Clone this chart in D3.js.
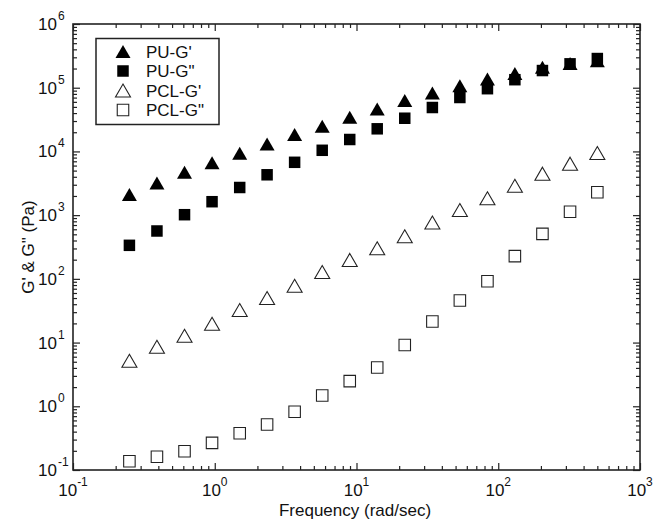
<!DOCTYPE html>
<html>
<head>
<meta charset="utf-8">
<script src="https://cdn.jsdelivr.net/npm/d3@7"></script>
<style>
  body { margin: 0; background: #fff; }
  svg { display: block; font-family: Arial, "Liberation Sans", Helvetica, sans-serif; }
</style>
</head>
<body>
<svg id="chart" width="664" height="520"></svg>
<script>
// frequency sweep (rad/sec)
var freq = [0.25, 0.391, 0.612, 0.957, 1.50, 2.34, 3.66, 5.73, 8.96, 14.0, 21.9, 34.3, 53.6, 83.9, 131, 205, 321, 500];

// moduli (Pa)
var puGp  = [2100, 3200, 4700, 6650, 9350, 13100, 18450, 24800, 34450, 46300, 63000, 82600, 107000, 137000, 167000, 209000, 240000, 265000];
var puGpp = [336, 564, 1016, 1625, 2716, 4300, 6750, 10420, 15390, 22650, 33200, 48900, 70200, 96500, 133600, 186000, 237000, 287000];
var pclGp = [5.18, 8.6, 12.8, 19.7, 32.4, 50, 77.8, 128, 198, 302, 466, 767, 1205, 1837, 2886, 4473, 6420, 9450];
var pclGpp = [0.137, 0.161, 0.197, 0.267, 0.377, 0.518, 0.822, 1.48, 2.48, 4.06, 9.16, 21.4, 45.7, 91.9, 227, 509, 1132, 2291];

var seriesNames = ["PU-G'", 'PU-G"', "PCL-G'", 'PCL-G"'];
var xTickExp = [-1, 0, 1, 2, 3];
var yTickExp = [-1, 0, 1, 2, 3, 4, 5, 6];

var series = [
  { name: seriesNames[0], values: puGp, shape: 'tri', filled: true },
  { name: seriesNames[1], values: puGpp, shape: 'sq', filled: true },
  { name: seriesNames[2], values: pclGp, shape: 'tri', filled: false },
  { name: seriesNames[3], values: pclGpp, shape: 'sq', filled: false }
];

var svg = d3.select('#chart');
// plot box (note: "top" is taken by window.top)
var pLeft = 73, pRight = 640, pTop = 24, pBottom = 470;

var x = d3.scaleLog().domain([0.1, 1000]).range([pLeft, pRight]);
var y = d3.scaleLog().domain([0.1, 1e6]).range([pBottom, pTop]);

var isMajor = function(v) { return Math.abs(Math.log10(v) - Math.round(Math.log10(v))) < 1e-6; };
var xMinor = x.ticks().filter(function(v) { return !isMajor(v); });
var yMinor = y.ticks().filter(function(v) { return !isMajor(v); });
var xMajor = xTickExp.map(function(e) { return Math.pow(10, e); });
var yMajor = yTickExp.map(function(e) { return Math.pow(10, e); });

function styleAxis(g) {
  g.select('.domain').remove();
  g.selectAll('line').attr('stroke', '#222').attr('stroke-width', 1.2);
}

// ticks, pointing inwards on all four sides
svg.append('g').attr('transform', 'translate(0,' + pBottom + ')')
  .call(d3.axisBottom(x).tickValues(xMinor).tickSize(-4).tickFormat('')).call(styleAxis);
svg.append('g').attr('transform', 'translate(0,' + pBottom + ')')
  .call(d3.axisBottom(x).tickValues(xMajor).tickSize(-7).tickFormat('')).call(styleAxis);
svg.append('g').attr('transform', 'translate(0,' + pTop + ')')
  .call(d3.axisTop(x).tickValues(xMinor).tickSize(-4).tickFormat('')).call(styleAxis);
svg.append('g').attr('transform', 'translate(0,' + pTop + ')')
  .call(d3.axisTop(x).tickValues(xMajor).tickSize(-7).tickFormat('')).call(styleAxis);
svg.append('g').attr('transform', 'translate(' + pLeft + ',0)')
  .call(d3.axisLeft(y).tickValues(yMinor).tickSize(-4).tickFormat('')).call(styleAxis);
svg.append('g').attr('transform', 'translate(' + pLeft + ',0)')
  .call(d3.axisLeft(y).tickValues(yMajor).tickSize(-7).tickFormat('')).call(styleAxis);
svg.append('g').attr('transform', 'translate(' + pRight + ',0)')
  .call(d3.axisRight(y).tickValues(yMinor).tickSize(-4).tickFormat('')).call(styleAxis);
svg.append('g').attr('transform', 'translate(' + pRight + ',0)')
  .call(d3.axisRight(y).tickValues(yMajor).tickSize(-7).tickFormat('')).call(styleAxis);

// frame
svg.append('rect')
  .attr('x', pLeft).attr('y', pTop)
  .attr('width', pRight - pLeft).attr('height', pBottom - pTop)
  .attr('fill', 'none').attr('stroke', '#222').attr('stroke-width', 1.6);

// tick labels as 10^n
var xl = svg.append('g').selectAll('text').data(xTickExp).join('text')
  .attr('x', function(d) { return x(Math.pow(10, d)); })
  .attr('y', 496)
  .attr('text-anchor', 'middle')
  .attr('font-size', 17)
  .attr('fill', '#111');
xl.append('tspan').text('10');
xl.append('tspan').attr('font-size', 12).attr('dy', -10).text(function(d) { return d; });

var yl = svg.append('g').selectAll('text').data(yTickExp).join('text')
  .attr('x', 38)
  .attr('y', function(d) { return y(Math.pow(10, d)) + 6; })
  .attr('font-size', 17)
  .attr('fill', '#111');
yl.append('tspan').text('10');
yl.append('tspan').attr('font-size', 12).attr('dy', -10).attr('dx', 1).text(function(d) { return d; });

// axis titles
svg.append('text')
  .attr('x', 355).attr('y', 516)
  .attr('text-anchor', 'middle').attr('font-size', 17).attr('fill', '#111')
  .text('Frequency (rad/sec)');
svg.append('text')
  .attr('transform', 'translate(34,' + ((pTop + pBottom) / 2) + ') rotate(-90)')
  .attr('text-anchor', 'middle').attr('font-size', 17).attr('fill', '#111')
  .text('G\' & G" (Pa)');

// marker paths, centred on their bounding box
function markerPath(shape) {
  if (shape === 'tri') return 'M0,-6.5L7.5,6.5L-7.5,6.5Z';
  return 'M-5.75,-5.75H5.75V5.75H-5.75Z';
}

series.forEach(function(s) {
  svg.append('g').selectAll('path').data(s.values).join('path')
    .attr('transform', function(d, i) { return 'translate(' + x(freq[i]) + ',' + y(d) + ')'; })
    .attr('d', markerPath(s.shape))
    .attr('fill', s.filled ? '#000' : '#fff')
    .attr('stroke', s.filled ? 'none' : '#222')
    .attr('stroke-width', 1.1);
});

// legend
var legend = svg.append('g');
legend.append('rect')
  .attr('x', 96).attr('y', 38.5).attr('width', 123).attr('height', 86)
  .attr('fill', '#fff').attr('stroke', '#222').attr('stroke-width', 1.5);
var rows = legend.selectAll('g.row').data(series).join('g')
  .attr('class', 'row')
  .attr('transform', function(d, i) { return 'translate(0,' + (51.5 + i * 19.5) + ')'; });
rows.append('path')
  .attr('transform', 'translate(123,0)')
  .attr('d', function(d) { return markerPath(d.shape); })
  .attr('fill', function(d) { return d.filled ? '#000' : '#fff'; })
  .attr('stroke', function(d) { return d.filled ? 'none' : '#222'; })
  .attr('stroke-width', 1.1);
rows.append('text')
  .attr('x', 146).attr('y', 6)
  .attr('font-size', 17).attr('fill', '#111')
  .text(function(d) { return d.name; });
</script>
</body>
</html>
